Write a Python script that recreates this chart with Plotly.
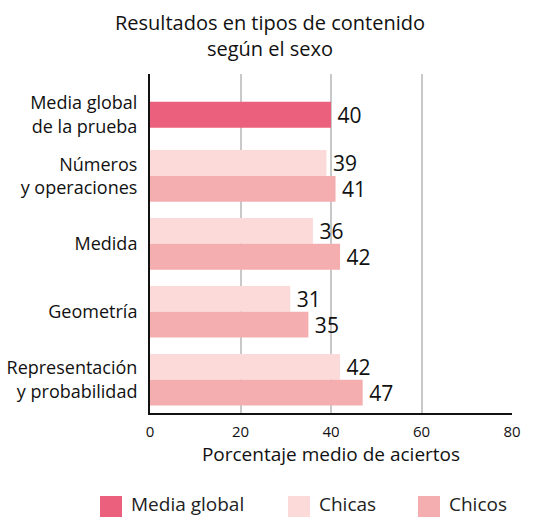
import plotly.graph_objects as go

# Data
categories = ["Media global<br>de la prueba", "Números<br>y operaciones", "Medida",
              "Geometría", "Representación<br>y probabilidad"]
media_global = [40]
chicas = [39, 36, 31, 42]
chicos = [41, 42, 35, 47]
x_ticks = [0, 20, 40, 60, 80]

# Layout constants
cat_pos = [0.1, 1, 2, 3, 4]
bar_w = 0.38
FONT = "Open Sans"
C_MEDIA = "#EB607C"
C_CHICAS = "#FBDAD9"
C_CHICOS = "#F4AEB0"
INK = "#111111"

fig = go.Figure()
text_font = dict(family=FONT, size=21, color=INK)


def labels(values):
    return ["\u2009" + str(v) for v in values]


def bar(y, x, color, name):
    return go.Bar(
        y=y, x=x, orientation="h", width=bar_w,
        marker=dict(color=color, line=dict(width=0)),
        text=labels(x), textposition="outside", textfont=text_font,
        constraintext="none", cliponaxis=False, showlegend=False, name=name)


fig.add_trace(bar([cat_pos[0]], media_global, C_MEDIA, "Media global"))
fig.add_trace(bar([p - bar_w / 2 for p in cat_pos[1:]], chicas, C_CHICAS, "Chicas"))
fig.add_trace(bar([p + bar_w / 2 for p in cat_pos[1:]], chicos, C_CHICOS, "Chicos"))

fig.update_layout(
    width=533, height=517,
    margin=dict(l=150, r=21, t=74, b=104),
    paper_bgcolor="white", plot_bgcolor="white",
    barmode="overlay",
    font=dict(family=FONT, color=INK),
    xaxis=dict(range=[0, 80], tickvals=x_ticks, showgrid=True, automargin=False,
               gridcolor="#C8C8C8", gridwidth=1.5, zeroline=False,
               showline=True, linecolor=INK, linewidth=2,
               ticks="outside", ticklen=4, tickcolor="rgba(0,0,0,0)",
               tickfont=dict(family=FONT, size=15, color=INK),
               title=dict(text="Porcentaje medio de aciertos", standoff=3,
                          font=dict(family=FONT, size=19, color=INK))),
    yaxis=dict(range=[4.49, -0.5], tickvals=cat_pos, ticktext=categories,
               showgrid=False, zeroline=False, showline=True, automargin=False,
               linecolor=INK, linewidth=2, ticks="outside",
               ticklen=7, tickcolor="rgba(0,0,0,0)",
               tickfont=dict(family=FONT, size=18, color=INK)),
)

# Title, placed relative to the plot area
fig.add_annotation(xref="paper", yref="paper", x=(270 - 150) / 362,
                   y=(413 - 35) / 339, xanchor="center", yanchor="middle",
                   text="Resultados en tipos de contenido<br>según el sexo",
                   showarrow=False, font=dict(family=FONT, size=20, color=INK))

# Legend drawn as swatches with labels beneath the chart
legend_items = [("Media global", C_MEDIA), ("Chicas", C_CHICAS), ("Chicos", C_CHICOS)]
legend_x = [100, 288, 418]
for (label, color), lx in zip(legend_items, legend_x):
    fig.add_shape(type="rect", xref="paper", yref="paper",
                  x0=(lx - 150) / 362, x1=(lx + 22 - 150) / 362,
                  y0=-(496 - 413) / 339, y1=-(517 - 413) / 339,
                  fillcolor=color, line=dict(width=0))
    fig.add_annotation(xref="paper", yref="paper", x=(lx + 29 - 150) / 362,
                       y=-(504 - 413) / 339, xanchor="left", yanchor="middle",
                       text=label, showarrow=False,
                       font=dict(family=FONT, size=19, color="#222222"))

fig.write_html("out.html")
